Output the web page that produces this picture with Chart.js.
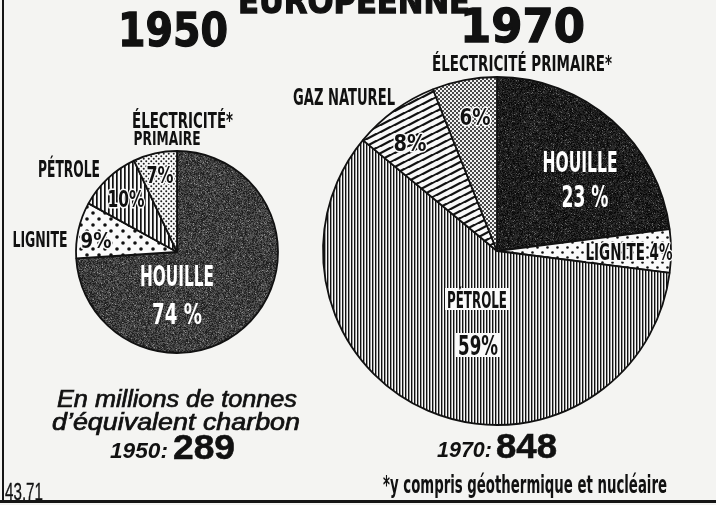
<!DOCTYPE html>
<html lang="fr">
<head>
<meta charset="utf-8">
<title>Consommation d'énergie européenne 1950 – 1970</title>
<script src="https://cdn.jsdelivr.net/npm/chart.js@4.4.1/dist/chart.umd.min.js"></script>
<style>
  html, body { margin: 0; padding: 0; background: #f4f4f2; }
  #page { position: relative; width: 716px; height: 505px; overflow: hidden; background: #f4f4f2; }
  canvas { position: absolute; left: 0; top: 0; }
  .t { position: absolute; white-space: nowrap; line-height: 1; transform-origin: 0 0; color: #111; }
  .heavy { font-family: "DejaVu Sans", "Liberation Sans", sans-serif; font-weight: 700; -webkit-text-stroke: 1.3px #111; }
  .cond { font-family: "Liberation Sans Narrow", "DejaVu Sans Condensed", "Liberation Sans", sans-serif; font-weight: 700; }
  .ital { font-family: "Liberation Sans", Arial, sans-serif; font-style: italic; -webkit-text-stroke: 0.7px #111; }
  .bi { font-family: "Liberation Sans", Arial, sans-serif; font-style: italic; font-weight: 700; }
  .b { font-family: "Liberation Sans", Arial, sans-serif; font-weight: 700; -webkit-text-stroke: 0.6px #111; }
  .plain { font-family: "Liberation Sans", Arial, sans-serif; font-weight: 400; -webkit-text-stroke: 0.3px #111; }
  .rule { position: absolute; background: #151515; }
</style>
</head>
<body>
<div id="page">
  <canvas id="pie1950" width="716" height="505"></canvas>
  <canvas id="pie1970" width="716" height="505"></canvas>

  <div class="t heavy" id="hdr">EUROPÉENNE</div>
  <div class="t heavy" id="year1"></div>
  <div class="t heavy" id="year2"></div>

  <div class="t ital" id="unit1">En millions de tonnes</div>
  <div class="t ital" id="unit2">d’équivalent charbon</div>
  <div class="t bi" id="tot1a"></div>
  <div class="t b" id="tot1b"></div>
  <div class="t bi" id="tot2a"></div>
  <div class="t b" id="tot2b"></div>

  <div class="t cond" id="note">*y compris géothermique et nucléaire</div>
  <div class="t plain" id="ref">43.71</div>

  <div class="rule" style="left:2px;top:0;width:2px;height:502px"></div>
  <div class="rule" style="left:0;top:500px;width:716px;height:3px"></div>
</div>

<script>
// ---- Data ---------------------------------------------------------------
const years = ['1950', '1970'];
const totals = [289, 848];              // millions de tonnes d'équivalent charbon

const categories1950 = ['HOUILLE', 'LIGNITE', 'PÉTROLE', 'ÉLECTRICITÉ PRIMAIRE'];
const values1950 = [74, 9, 10, 7];      // %

const categories1970 = ['HOUILLE', 'LIGNITE', 'PÉTROLE', 'GAZ NATUREL', 'ÉLECTRICITÉ PRIMAIRE'];
const values1970 = [23, 4, 59, 8, 6];   // %

// ---- Hatch / screen fills ----------------------------------------------
function tile(w, h, draw) {
  const c = document.createElement('canvas');
  c.width = w; c.height = h;
  const g = c.getContext('2d');
  draw(g, w, h);
  return g.createPattern(c, 'repeat');
}
function hashNoise(i, k) {
  const s = Math.sin(i * k) * 43758.5453;
  return s - Math.floor(s);
}
function grain(base, spread, seed) {
  return tile(97, 89, (g, w, h) => {
    const img = g.createImageData(w, h);
    for (let i = 0; i < w * h; i++) {
      const a = hashNoise(i + seed, 12.9898);
      const b = hashNoise(i + seed, 78.233);
      let v = base + (a - 0.5) * spread + (b > 0.94 ? 55 : 0);
      v = Math.max(0, Math.min(255, v));
      img.data[i * 4] = img.data[i * 4 + 1] = img.data[i * 4 + 2] = v;
      img.data[i * 4 + 3] = 255;
    }
    g.putImageData(img, 0, 0);
  });
}
function dots(step, r, color) {
  return tile(step * 2, step * 2, (g, w, h) => {
    g.fillStyle = '#fafafa'; g.fillRect(0, 0, w, h);
    g.fillStyle = color;
    [[step / 2, step / 2], [step * 1.5, step * 1.5]].forEach(([x, y]) => {
      g.beginPath(); g.arc(x, y, r, 0, Math.PI * 2); g.fill();
    });
  });
}
function vlines(step, lw) {
  return tile(step, 8, (g, w, h) => {
    g.fillStyle = '#f8f8f8'; g.fillRect(0, 0, w, h);
    g.fillStyle = '#111'; g.fillRect(0, 0, lw, h);
  });
}
function slant(w, h, lw) {
  return tile(w, h, (g) => {
    g.fillStyle = '#f8f8f8'; g.fillRect(0, 0, w, h);
    g.strokeStyle = '#111'; g.lineWidth = lw;
    for (let k = -1; k <= 1; k++) {
      g.beginPath(); g.moveTo(-1, h + k * h + h / w); g.lineTo(w + 1, k * h - h / w); g.stroke();
    }
  });
}
function checker(cell, color) {
  return tile(cell * 2, cell * 2, (g, w, h) => {
    g.fillStyle = '#f2f2f2'; g.fillRect(0, 0, w, h);
    g.fillStyle = color;
    g.fillRect(0, 0, cell, cell); g.fillRect(cell, cell, cell, cell);
  });
}

const fills1950 = [grain(60, 70, 11), dots(6, 1.8, '#111'), vlines(4, 1.7), dots(2.5, 1.0, '#222')];
const fills1970 = [grain(28, 46, 37), dots(5, 1.3, '#111'), vlines(3, 1.4), slant(14, 7.5, 2.2), checker(2, '#4a4a4a')];

// ---- Slice labels, placed relative to the pie centre ---------------------
const pct = (v, spaced) => spaced ? v + ' %' : v + '%';

const layout1950 = [
  { text: 'ÉLECTRICITÉ*', dx: 5.5, dy: -132, cap: 15, w: 101 },
  { text: 'PRIMAIRE', dx: -10, dy: -114, cap: 14, w: 67 },
  { text: categories1950[2], dx: -108, dy: -83, cap: 16, w: 62 },
  { text: categories1950[1], dx: -137, dy: -12.5, cap: 15, w: 55 },
  { text: pct(values1950[3]), dx: -17, dy: -77, cap: 16, w: 27, halo: true },
  { text: pct(values1950[2]), dx: -51, dy: -54, cap: 17, w: 37, halo: true },
  { text: pct(values1950[1]), dx: -81, dy: -12, cap: 15, w: 31, halo: true },
  { text: categories1950[0], dx: 0, dy: 24, cap: 20, w: 74, color: '#fff' },
  { text: pct(values1950[0], true), dx: 0, dy: 61, cap: 21, w: 50, color: '#fff' }
];

const layout1970 = [
  { text: categories1970[4] + '*', dx: 25, dy: -188, cap: 15, w: 180 },
  { text: categories1970[3], dx: -153, dy: -154, cap: 16, w: 102 },
  { text: pct(values1970[4]), dx: -22, dy: -135, cap: 17, w: 31, halo: true },
  { text: pct(values1970[3]), dx: -87, dy: -109, cap: 17, w: 33, halo: true },
  { text: categories1970[0], dx: 83, dy: -89, cap: 20, w: 75, color: '#fff' },
  { text: pct(values1970[0], true), dx: 88, dy: -55, cap: 22, w: 47, color: '#fff' },
  { text: categories1970[1] + ' ' + pct(values1970[1]), dx: 132, dy: 0, cap: 17, w: 87, halo: true },
  { text: categories1970[2], dx: -20, dy: 48, cap: 17, w: 60, box: true },
  { text: pct(values1970[2]), dx: -19, dy: 94, cap: 19, w: 40, box: true }
];

const LABEL_FONT = '"Liberation Sans Narrow", "DejaVu Sans Condensed", "Liberation Sans", sans-serif';

function drawLabel(ctx, it, cx, cy) {
  const fs = it.cap / 0.72;
  ctx.save();
  ctx.font = `bold ${fs}px ${LABEL_FONT}`;
  const sx = it.w / ctx.measureText(it.text).width;
  const x = cx + it.dx, y = cy + it.dy;
  if (it.box) {
    ctx.fillStyle = '#fafafa';
    ctx.fillRect(x - it.w / 2 - 2, y - it.cap / 2 - 2.5, it.w + 4, it.cap + 5);
  }
  ctx.translate(x, y + it.cap / 2);
  ctx.scale(sx, 1);
  ctx.textAlign = 'center';
  ctx.textBaseline = 'alphabetic';
  if (it.halo) {
    ctx.strokeStyle = '#fafafa';
    ctx.lineJoin = 'round';
    ctx.lineWidth = 3.2;
    ctx.strokeText(it.text, 0, 0);
  }
  ctx.fillStyle = it.color || '#111';
  ctx.fillText(it.text, 0, 0);
  ctx.restore();
}

function sliceLabels(items) {
  return {
    id: 'sliceLabels',
    afterDatasetsDraw(chart) {
      const arc = chart.getDatasetMeta(0).data[0];
      items.forEach(it => drawLabel(chart.ctx, it, arc.x, arc.y));
    }
  };
}

// ---- Pies --------------------------------------------------------------
function pie(id, labels, values, fills, cx, cy, r, items) {
  const half = r + 10;
  return new Chart(document.getElementById(id), {
    type: 'pie',
    data: {
      labels,
      datasets: [{
        data: values,
        backgroundColor: fills,
        borderColor: '#111',
        borderWidth: 1.8,
        hoverOffset: 0
      }]
    },
    options: {
      responsive: false,
      animation: false,
      events: [],
      radius: r,
      rotation: 0,
      layout: {
        padding: { left: cx - half, right: 716 - cx - half, top: cy - half, bottom: 505 - cy - half }
      },
      plugins: { legend: { display: false }, tooltip: { enabled: false } }
    },
    plugins: [sliceLabels(items)]
  });
}

pie('pie1950', categories1950, values1950, fills1950, 177, 252, 101, layout1950);
pie('pie1970', categories1970, values1970, fills1970, 497, 251, 174, layout1970);

// ---- Headings and notes ------------------------------------------------
document.getElementById('year1').textContent = years[0];
document.getElementById('year2').textContent = years[1];
document.getElementById('tot1a').textContent = years[0] + ':';
document.getElementById('tot1b').textContent = totals[0];
document.getElementById('tot2a').textContent = years[1] + ':';
document.getElementById('tot2b').textContent = totals[1];

// set left edge, baseline, font size and fitted width of a text block
function place(id, x, baseline, fs, width) {
  const el = document.getElementById(id);
  el.style.fontSize = fs + 'px';
  el.style.left = x + 'px';
  el.style.top = (baseline - 0.846 * fs) + 'px';
  const natural = el.getBoundingClientRect().width;
  el.style.transform = `scaleX(${width / natural})`;
}

place('hdr', 238, 13, 34, 232);
place('year1', 118, 46, 46, 110);
place('year2', 460, 42, 46, 125);

place('unit1', 57, 407, 23, 240);
place('unit2', 52, 430, 23, 248);
place('tot1a', 110, 459, 22, 58);
place('tot1b', 173, 459, 35, 62);
place('tot2a', 437, 458, 22, 55);
place('tot2b', 496, 458, 35, 61);

place('note', 383, 493, 24, 284);
place('ref', 5, 500, 24, 38);
</script>
</body>
</html>
